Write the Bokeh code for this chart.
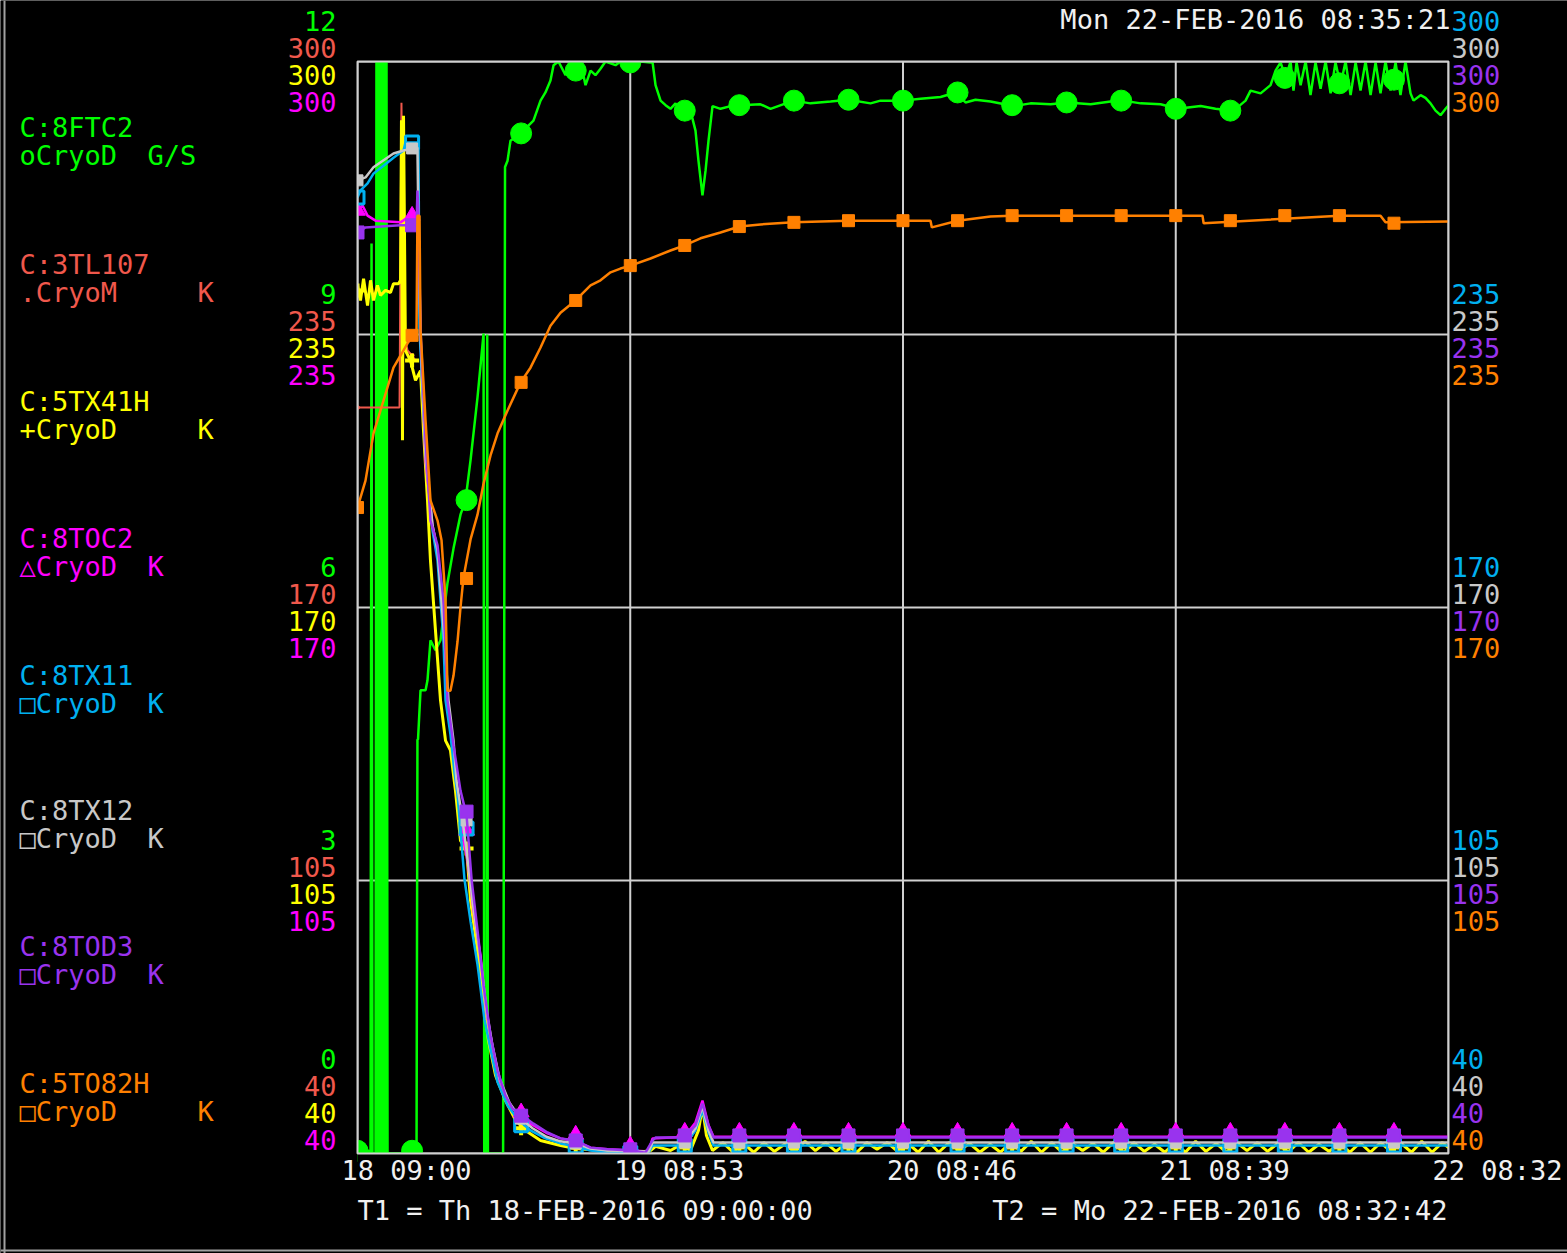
from bokeh.plotting import figure
from bokeh.models import Range1d, Label
from bokeh.embed import file_html
from bokeh.resources import INLINE

# ---------------- data ----------------
span_hours = 95.545  # 18-FEB-2016 09:00:00 -> 22-FEB-2016 08:32:42
x_ticks = [0.0, 23.886, 47.773, 71.659, 95.545]
x_tick_labels = ["18 09:00", "19 08:53", "20 08:46", "21 08:39", "22 08:32"]
k_ticks = [40, 105, 170, 235, 300]
g_ticks = [0, 3, 6, 9, 12]

marker_t = [0.0, 4.78, 9.55, 14.33, 19.11, 23.89, 28.66, 33.44, 38.22, 43.00,
            47.77, 52.55, 57.33, 62.10, 66.88, 71.66, 76.44, 81.21, 85.99, 90.77]

green_t = [0.00, 0.96, 1.14, 1.23, 1.31, 1.58, 1.66, 1.75, 1.84, 1.93, 2.01, 2.10, 2.19, 2.28, 2.36,
           2.45, 2.54, 2.63, 4.64, 5.17, 5.25, 5.30, 5.52, 5.96, 6.13, 6.39, 6.83, 7.27, 7.88, 8.41,
           9.02, 9.46, 9.90, 10.51, 11.04, 11.10, 11.30, 11.36, 11.42, 12.75, 12.83, 12.92, 13.14,
           13.40, 14.28, 15.41, 16.03, 16.46, 16.90, 17.17, 17.60, 18.22, 18.65, 19.09, 19.53, 19.97,
           20.41, 20.84, 21.28, 21.72, 22.60, 23.03, 23.91, 24.79, 25.66, 25.84, 26.10, 26.54, 26.98,
           27.41, 27.85, 28.29, 29.16, 29.60, 29.86, 30.21, 30.48, 30.74, 31.09, 31.79, 32.67, 33.54,
           35.29, 36.17, 38.18, 39.67, 41.43, 43.00, 44.93, 45.80, 47.73, 49.31, 51.06, 52.37, 53.25,
           54.12, 55.44, 57.45, 58.94, 60.69, 62.18, 64.20, 65.95, 67.09, 68.58, 70.33, 71.82, 73.84,
           75.14, 76.72, 77.77, 78.21, 79.09, 79.96, 80.40, 80.84, 81.28, 81.71, 81.97, 82.24, 82.59,
           83.03, 83.46, 83.90, 84.34, 84.78, 85.22, 85.65, 86.09, 86.53, 86.97, 87.41, 87.84, 88.28,
           88.72, 89.16, 89.59, 90.03, 90.47, 90.91, 91.34, 91.78, 92.22, 92.48, 93.10, 93.53, 93.97,
           94.41, 94.85, 95.29, 95.55]
green_v = [0.03, 0.03, 0.00, 10.00, 0.00, 0.00, 12.00, 0.00, 12.00, 0.00, 12.00, 0.00, 12.00, 0.00, 12.00,
           0.00, 12.00, 0.00, 0.00, 0.00, 4.55, 4.55, 5.09, 5.09, 5.20, 5.64, 5.53, 5.64, 6.27, 6.65,
           7.02, 7.18, 7.62, 8.31, 9.01, 0.00, 0.00, 9.00, 0.00, 0.00, 4.21, 10.84, 10.91,
           11.13, 11.21, 11.35, 11.57, 11.66, 11.79, 11.96, 12.00, 11.85, 12.00, 11.90, 12.00, 11.74,
           11.90, 11.85, 11.92, 12.00, 11.96, 12.00, 11.99, 12.00, 11.99, 11.99, 11.74, 11.57, 11.52,
           11.48, 11.54, 11.46, 11.46, 11.24, 10.91, 10.53, 10.80, 11.13, 11.51, 11.48, 11.51, 11.52,
           11.53, 11.48, 11.57, 11.54, 11.56, 11.58, 11.54, 11.57, 11.57, 11.59, 11.61, 11.66, 11.55,
           11.58, 11.56, 11.51, 11.54, 11.53, 11.55, 11.53, 11.56, 11.57, 11.54, 11.53, 11.48, 11.51,
           11.48, 11.46, 11.57, 11.68, 11.65, 11.74, 11.90, 11.99, 11.82, 12.00, 11.68, 11.99, 11.74,
           12.00, 11.63, 11.99, 11.70, 12.00, 11.65, 11.99, 11.74, 12.00, 11.63, 11.99, 11.68, 12.00,
           11.63, 11.99, 11.65, 12.00, 11.68, 11.99, 11.63, 12.00, 11.65, 11.57, 11.63, 11.60, 11.54,
           11.46, 11.41, 11.48, 11.52]
green_mk = [0.03, 0.03, 7.18, 11.21, 11.90, 11.99, 11.46, 11.52, 11.57, 11.58,
            11.57, 11.66, 11.52, 11.55, 11.57, 11.48, 11.46, 11.82, 11.76, 11.80]

red_t = [0.00, 3.68, 3.85, 4.03, 4.38, 4.77, 5.08]
red_v = [217.6, 217.6, 290.2, 236.0, 231.2, 230.0, 228.8]
red_mk_t = [0.0, 4.78]
red_mk = [217.6, 230.0]

yellow_t = [0.00, 0.26, 0.53, 0.88, 1.14, 1.40, 1.75, 2.01, 2.45, 2.89, 3.15, 3.59, 3.77, 3.85, 3.94,
            4.03, 4.20, 4.64, 5.08, 5.52, 5.78, 6.13, 6.39, 6.83, 7.27, 7.71, 8.14, 8.58, 9.02, 9.55,
            9.90, 10.51, 11.04, 11.47, 12.09, 12.96, 13.84, 14.71, 16.03, 17.78, 19.09, 21.28, 23.03,
            24.08, 25.66, 26.10, 27.41, 28.29, 29.16, 29.86, 30.21, 30.56, 31.09, 32.0, 32.9, 33.8,
            34.7, 35.6, 36.5, 37.4, 38.3, 39.2, 40.1, 41.0, 41.9, 42.8, 43.7, 44.6, 45.5, 46.4, 47.3,
            48.2, 49.1, 50.0, 50.9, 51.8, 52.7, 53.6, 54.5, 55.4, 56.3, 57.2, 58.1, 59.0, 59.9, 60.8,
            61.7, 62.6, 63.5, 64.4, 65.3, 66.2, 67.1, 68.0, 68.9, 69.8, 70.7, 71.6, 72.5, 73.4, 74.3,
            75.2, 76.1, 77.0, 77.9, 78.8, 79.7, 80.6, 81.5, 82.4, 83.3, 84.2, 85.1, 86.0, 86.9, 87.8,
            88.7, 89.6, 90.5, 91.4, 92.3, 93.2, 94.1, 95.0, 95.55]
yellow_v = [246.7, 243.1, 248.3, 241.9, 247.9, 243.1, 246.7, 244.3, 245.5, 245.0, 247.1, 247.1, 247.9, 286.0, 209.8,
            287.1, 231.2, 228.8, 224.1, 226.4, 212.1, 195.5, 181.2, 164.5, 147.9, 138.3, 136.0, 126.4, 114.5, 112.4,
            100.2, 88.3, 76.4, 66.9, 58.6, 52.6, 47.9, 45.5, 43.1, 41.9, 41.2, 40.7, 40.2,
            40.0, 40.7, 41.7, 40.7, 42.1, 40.7, 45.5, 51.2, 44.3, 40.7, 42.6, 40.3, 42.4,
            40.3, 42.6, 40.5, 42.2, 40.3, 42.9, 40.7, 42.6, 40.5, 42.4, 40.2, 42.6, 41.0, 42.6, 40.5,
            42.4, 40.3, 42.9, 40.3, 42.6, 40.7, 42.4, 40.3, 42.2, 40.3, 42.6, 40.5, 42.9, 40.3, 42.6,
            40.3, 42.4, 40.7, 42.4, 40.3, 42.6, 40.2, 42.6, 40.5, 42.2, 40.3, 42.6, 40.3, 42.9, 40.5,
            42.4, 40.3, 42.6, 40.7, 42.6, 40.5, 42.4, 40.3, 42.6, 40.3, 42.2, 40.5, 42.4, 40.3, 42.6,
            40.3, 42.6, 40.5, 42.4, 40.3, 42.9, 40.3, 42.6, 41.4]
yellow_mk = [245.5, 228.8, 112.6, 46.0, 41.4, 40.2, 41.4, 41.4, 41.4, 41.4,
             41.4, 41.4, 41.4, 41.4, 41.4, 41.4, 41.4, 41.4, 41.4, 41.4]

magenta_t = [0.00, 0.44, 0.88, 1.58, 3.77, 4.64, 5.08, 5.25, 5.52, 5.96, 6.57, 7.01, 7.53, 7.88, 8.32,
             8.67, 9.28, 9.63, 10.16, 10.77, 11.30, 11.82, 12.44, 13.31, 14.28, 15.41, 16.64, 17.78,
             19.09, 20.41, 21.90, 24.08, 25.49, 25.84, 28.64, 29.60, 30.21, 30.74, 31.18, 95.55]
magenta_v = [264.5, 265.7, 263.3, 262.1, 261.7, 263.3, 264.0, 262.1, 233.6, 205.0, 189.5, 183.6, 164.5, 147.9, 138.3,
             127.6, 114.5, 109.8, 97.9, 87.1, 73.6, 65.5, 57.4, 51.9, 48.3, 46.7, 44.8, 43.6,
             42.9, 41.4, 41.0, 40.7, 40.5, 43.6, 44.0, 47.4, 52.6, 46.7, 44.0, 44.0]
magenta_mk = [264.5, 263.3, 116.9, 49.8, 44.5, 41.9, 45.2, 45.2, 45.2, 45.2,
              45.2, 45.2, 45.2, 45.2, 45.2, 45.2, 45.2, 45.2, 45.2, 45.2]

cyan_t = [0.00, 0.26, 0.88, 1.40, 2.28, 3.15, 4.03, 4.20, 5.34, 5.43, 5.96, 6.57, 7.01, 7.53, 7.71,
          8.14, 8.50, 8.76, 9.37, 9.90, 10.51, 11.12, 11.65, 12.26, 13.14, 14.10, 15.15, 16.46,
          17.78, 19.09, 20.41, 21.90, 25.49, 25.84, 28.64, 29.60, 30.21, 30.74, 31.18, 95.55]
cyan_v = [267.6, 269.3, 271.0, 273.3, 275.2, 277.1, 278.8, 280.7, 280.7, 236.0, 207.4, 188.3, 181.2, 162.1, 147.9,
          139.8, 130.5, 125.5, 105.3, 95.3, 85.0, 71.9, 64.8, 57.0, 51.4, 47.9, 45.5, 43.6,
          42.4, 41.7, 40.7, 40.2, 40.2, 41.9, 41.9, 45.5, 50.2, 45.0, 41.9, 41.9]
cyan_mk = [267.6, 280.7, 117.4, 46.7, 41.7, 40.2, 41.9, 41.9, 41.9, 41.9,
           41.9, 41.9, 41.9, 41.9, 41.9, 41.9, 41.9, 41.9, 41.9, 41.9]

gray_t = [0.00, 0.70, 1.40, 2.28, 3.15, 4.03, 5.25, 5.34, 5.52, 5.96, 6.57, 7.01, 7.62, 7.97, 8.41,
          8.67, 9.20, 9.55, 10.07, 10.68, 11.30, 11.82, 12.44, 13.31, 14.28, 15.33, 16.55, 17.78,
          19.09, 20.41, 21.90, 25.49, 25.84, 28.64, 29.60, 30.21, 30.74, 31.18, 95.55]
gray_v = [271.7, 272.4, 274.8, 276.5, 278.1, 278.8, 279.5, 260.5, 234.8, 206.2, 189.5, 183.6, 162.1, 147.9, 138.3,
          128.8, 119.3, 112.1, 100.2, 88.3, 74.0, 65.7, 57.9, 52.1, 48.3, 46.0, 44.0, 42.9,
          42.4, 41.2, 40.7, 40.5, 42.6, 42.6, 46.0, 51.2, 45.5, 42.6, 42.6]
gray_mk = [271.7, 279.3, 119.3, 48.3, 42.4, 40.5, 42.6, 42.6, 42.6, 42.6,
           42.6, 42.6, 42.6, 42.6, 42.6, 42.6, 42.6, 42.6, 42.6, 42.6]

purple_t = [0.00, 0.70, 2.01, 3.77, 4.90, 5.17, 5.25, 5.34, 5.52, 5.96, 6.39, 7.01, 7.53, 7.88, 8.41,
            9.02, 9.55, 10.00, 10.51, 11.04, 11.65, 12.26, 12.96, 13.58, 14.45, 15.41, 16.64, 17.78,
            19.09, 20.41, 21.90, 24.08, 25.22, 25.84, 26.10, 28.64, 29.60, 30.21, 30.74, 31.18, 95.55]
purple_v = [259.3, 260.5, 260.7, 261.0, 261.0, 261.0, 269.3, 263.3, 236.0, 209.8, 190.7, 184.8, 171.7, 147.9, 137.1,
            126.4, 120.5, 105.0, 93.1, 80.0, 68.1, 59.8, 53.8, 50.7, 49.0, 47.1, 45.0, 43.6,
            43.1, 41.4, 41.0, 40.7, 40.2, 43.1, 43.8, 43.8, 46.7, 51.9, 46.7, 43.8, 43.8]
purple_mk = [259.3, 261.0, 121.4, 49.0, 43.1, 41.0, 44.3, 44.3, 44.3, 44.3,
             44.3, 44.3, 44.3, 44.3, 44.3, 44.3, 44.3, 44.3, 44.3, 44.3]

orange_t = [0.00, 0.70, 1.40, 2.28, 3.15, 3.77, 4.38, 4.90, 5.17, 5.25, 5.43, 5.52, 5.96, 6.39, 7.01,
            7.36, 7.71, 7.88, 8.14, 8.41, 8.76, 9.02, 9.28, 9.90, 10.51, 11.04, 11.65, 12.26, 13.14,
            14.28, 15.15, 16.03, 16.90, 17.78, 19.09, 20.41, 21.28, 22.16, 23.03, 23.91, 25.66, 27.41,
            28.64, 30.04, 31.79, 33.45, 35.29, 38.18, 40.55, 43.00, 47.73, 50.18, 50.30, 52.55, 55.44,
            57.28, 74.00, 74.10, 86.00, 89.59, 90.03, 95.55]
orange_v = [193.8, 200.2, 211.4, 219.3, 227.1, 230.0, 232.9, 234.8, 236.0, 263.3, 263.3, 236.0, 214.5, 195.5, 190.7,
            186.0, 171.7, 150.2, 150.2, 153.8, 161.9, 170.0, 177.1, 186.2, 192.1, 199.5, 206.2, 211.4, 216.9,
            223.6, 227.1, 231.9, 237.1, 240.2, 243.1, 246.7, 247.9, 249.8, 250.7, 251.4, 253.1, 255.0,
            256.2, 257.9, 259.3, 260.7, 261.2, 261.7, 261.9, 262.1, 262.1, 262.1, 260.5, 262.1, 263.1,
            263.3, 263.3, 261.5, 263.3, 263.3, 261.7, 261.9]
orange_mk = [193.8, 234.8, 176.9, 223.6, 243.1, 251.4, 256.2, 260.7, 261.7, 262.1,
             262.1, 262.1, 263.3, 263.3, 263.3, 263.3, 262.1, 263.3, 263.3, 261.5]

legend_names = ["C:8FTC2", "C:3TL107", "C:5TX41H", "C:8TOC2", "C:8TX11", "C:8TX12", "C:8TOD3", "C:5TO82H"]
legend_systems = ["oCryoD", ".CryoM", "+CryoD", "\u25b3CryoD", "\u25a1CryoD", "\u25a1CryoD", "\u25a1CryoD", "\u25a1CryoD"]
legend_units = ["G/S", "K", "K", "K", "K", "K", "K", "K"]
header_text = "Mon 22-FEB-2016 08:35:21"
t1_text = "T1 = Th 18-FEB-2016 09:00:00"
t2_text = "T2 = Mo 22-FEB-2016 08:32:42"

# ---------------- style / layout ----------------
GREEN = "#00ff00"
RED = "#f0584c"
YELLOW = "#ffff00"
MAGENTA = "#ff00ff"
CYAN = "#00b0f0"
GRAY = "#c8c8c8"
PURPLE = "#9933ee"
ORANGE = "#ff8000"
FRAME = "#d0d0d0"
WHITE = "#f0f0f0"
FONT = "DejaVu Sans Mono"
FS = "27px"

W, H = 1567, 1253
LEFT, RIGHT, TOP, BOTTOM = 357, 1448, 61, 1153   # plot-area pixel box
K_LO, K_HI = k_ticks[0], k_ticks[-1]
G_LO, G_HI = g_ticks[0], g_ticks[-1]

px_h = (RIGHT - LEFT) / span_hours
px_k = (BOTTOM - TOP) / (K_HI - K_LO)
px_g = (BOTTOM - TOP) / (G_HI - G_LO)
X0, X1 = -LEFT / px_h, span_hours + (W - RIGHT) / px_h
Y0, Y1 = K_LO - (H - BOTTOM) / px_k, K_HI + TOP / px_k
GY0, GY1 = G_LO - (H - BOTTOM) / px_g, G_HI + TOP / px_g

p = figure(width=W, height=H, output_backend="svg", toolbar_location=None,
           x_range=Range1d(X0, X1), y_range=Range1d(Y0, Y1),
           x_axis_type=None, y_axis_type=None,
           background_fill_color="black", border_fill_color="black", min_border=0)
p.extra_y_ranges = {"gs": Range1d(GY0, GY1)}
p.outline_line_color = None
p.grid.visible = False

# grid (under data)
p.segment(x0=x_ticks, y0=[K_LO] * len(x_ticks), x1=x_ticks, y1=[K_HI] * len(x_ticks),
          line_color=FRAME, line_width=2)
p.segment(x0=[0.0] * len(k_ticks), y0=k_ticks, x1=[span_hours] * len(k_ticks), y1=k_ticks,
          line_color=FRAME, line_width=2)

# green (G/S scale)
p.line(green_t, green_v, line_color=GREEN, line_width=2.5, y_range_name="gs")
p.scatter(marker_t, green_mk, marker="circle", size=21, fill_color=GREEN, line_color=GREEN, y_range_name="gs")
# red
p.line(red_t, red_v, line_color=RED, line_width=2)
p.scatter(red_mk_t, red_mk, marker="circle", size=4, fill_color=RED, line_color=RED)
# yellow
p.line(yellow_t, yellow_v, line_color=YELLOW, line_width=3)
p.scatter(marker_t, yellow_mk, marker="cross", size=14, line_color=YELLOW, line_width=4)
# magenta
p.line(magenta_t, magenta_v, line_color=MAGENTA, line_width=2.5)
p.scatter(marker_t, magenta_mk, marker="triangle", size=16, fill_color=MAGENTA, line_color=MAGENTA)
# cyan
p.line(cyan_t, cyan_v, line_color=CYAN, line_width=2.5)
p.scatter(marker_t, cyan_mk, marker="square", size=13, fill_color=None, line_color=CYAN, line_width=3)
# gray
p.line(gray_t, gray_v, line_color=GRAY, line_width=2.5)
p.scatter(marker_t, gray_mk, marker="square", size=11, fill_color=GRAY, line_color=GRAY)
# purple
p.line(purple_t, purple_v, line_color=PURPLE, line_width=2.5)
p.scatter(marker_t, purple_mk, marker="square", size=13, fill_color=PURPLE, line_color=PURPLE)
# orange
p.line(orange_t, orange_v, line_color=ORANGE, line_width=2.5)
p.scatter(marker_t, orange_mk, marker="square", size=12, fill_color=ORANGE, line_color=ORANGE)

# black masks outside the plot area (clip marks to the box)
p.quad(left=[X0, span_hours, 0.0, 0.0], right=[0.0, X1, span_hours, span_hours],
       bottom=[Y0, Y0, K_HI, Y0], top=[Y1, Y1, Y1, K_LO],
       fill_color="black", line_color=None)
# plot-area frame
p.quad(left=[0.0], right=[span_hours], bottom=[K_LO], top=[K_HI],
       fill_color=None, line_color=FRAME, line_width=2)
# window border (left and bottom edge)
p.segment(x0=[X0 + 4 / px_h, X0], y0=[Y0, Y0 + 3 / px_k], x1=[X0 + 4 / px_h, X1], y1=[Y1, Y0 + 3 / px_k],
          line_color="#a0a0a0", line_width=2)


def text(s, x, y, color, xo, yo, align="left"):
    p.add_layout(Label(x=x, y=y, x_offset=xo, y_offset=yo, text=s, text_color=color,
                       text_font=FONT, text_font_size=FS, text_align=align,
                       text_baseline="middle"))


series_colors = [GREEN, RED, YELLOW, MAGENTA, CYAN, GRAY, PURPLE, ORANGE]
legend_y = [127, 264, 401, 538, 675, 810, 946, 1083]
unit_x = [147, 197, 197, 147, 147, 147, 147, 197]
for name, sysname, unit, col, ly, ux in zip(legend_names, legend_systems, legend_units,
                                            series_colors, legend_y, unit_x):
    text(name, 0, K_HI, col, 19 - LEFT, TOP - ly)
    text(sysname, 0, K_HI, col, 19 - LEFT, TOP - (ly + 28))
    text(unit, 0, K_HI, col, ux - LEFT, TOP - (ly + 28))

left_cols = [GREEN, RED, YELLOW, MAGENTA]
right_cols = [CYAN, GRAY, PURPLE, ORANGE]
for i, (kv, gv) in enumerate(zip(k_ticks, g_ticks)):
    offs = [95, 68, 41, 14] if i == 0 else [41, 14, -13, -40]
    labels_left = [str(gv), str(kv), str(kv), str(kv)]
    for s, col, o in zip(labels_left, left_cols, offs):
        text(s, 0, kv, col, -21, o, align="right")
    for col, o in zip(right_cols, offs):
        text(str(kv), span_hours, kv, col, 3, o, align="left")

for xt, lab in zip(x_ticks, x_tick_labels):
    text(lab, xt, K_LO, WHITE, -16, -17)

text(header_text, span_hours, K_HI, WHITE, 2, 42, align="right")
text(t1_text, 0, K_LO, WHITE, 0, -57)
text(t2_text, span_hours, K_LO, WHITE, -1, -57, align="right")

open("out.html", "w").write(file_html(p, INLINE))
